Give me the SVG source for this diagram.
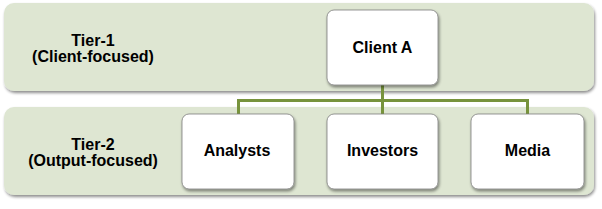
<svg xmlns="http://www.w3.org/2000/svg" width="602" height="209" viewBox="0 0 602 209">
<defs>
<filter id="sh" x="-10%" y="-10%" width="120%" height="130%">
<feGaussianBlur in="SourceAlpha" stdDeviation="1.5"/>
<feOffset dx="1" dy="2" result="b"/>
<feComponentTransfer><feFuncA type="linear" slope="0.45"/></feComponentTransfer>
<feMerge><feMergeNode/><feMergeNode in="SourceGraphic"/></feMerge>
</filter>
<style>
.band{fill:#DEE6D2;filter:url(#sh);}
.box{fill:#FFFFFF;stroke:#7F7F7F;stroke-width:0.8;filter:url(#sh);}
.t{font-family:"Liberation Sans",Arial,sans-serif;font-weight:bold;font-size:16px;fill:#000;text-anchor:middle;}
.c{fill:none;stroke:#77933C;stroke-width:3;}
</style>
</defs>
<rect width="602" height="209" fill="#FFFFFF"/>
<g id="tier1">
<rect class="band" x="4" y="3" width="590" height="88" rx="10"/>
<text class="t" x="93" y="46">Tier-1</text>
<text class="t" x="93" y="62">(Client-focused)</text>
</g>
<g id="tier2">
<rect class="band" x="4" y="107" width="590" height="88" rx="10"/>
<text class="t" x="93" y="150">Tier-2</text>
<text class="t" x="93" y="166">(Output-focused)</text>
</g>
<g id="connectors">
<path class="c" d="M382.5 85 V100.5 M238.5 114 V100.5 H527.5 V114 M382.5 100.5 V114"/>
</g>
<g id="clientA">
<rect class="box" x="327" y="10" width="111" height="75" rx="7"/>
<text class="t" x="382.5" y="53">Client A</text>
</g>
<g id="analysts">
<rect class="box" x="182" y="114" width="112" height="75" rx="7"/>
<text class="t" x="237" y="156">Analysts</text>
</g>
<g id="investors">
<rect class="box" x="327" y="114" width="111" height="75" rx="7"/>
<text class="t" x="382.5" y="156">Investors</text>
</g>
<g id="media">
<rect class="box" x="471" y="114" width="113" height="75" rx="7"/>
<text class="t" x="527.5" y="156">Media</text>
</g>
</svg>
